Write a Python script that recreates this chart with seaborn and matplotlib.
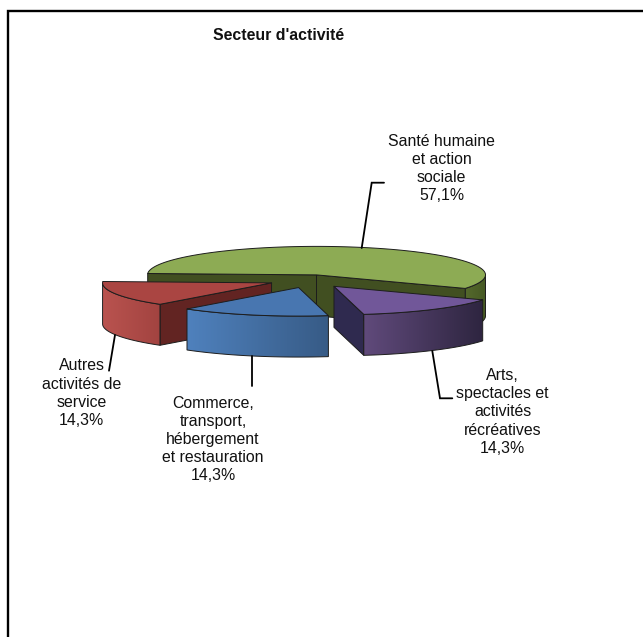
import matplotlib
matplotlib.use("Agg")
import matplotlib.pyplot as plt
import numpy as np
import seaborn as sns
from matplotlib.patches import Polygon

labels = [
    "Santé humaine\net action\nsociale",
    "Arts,\nspectacles et\nactivités\nrécréatives",
    "Commerce,\ntransport,\nhébergement\net restauration",
    "Autres\nactivités de\nservice",
]
shares = [57.1, 14.3, 14.3, 14.3]
explode = [0.15, 0.245, 0.245, 0.245]

top_colors = ["#8DAB54", "#715799", "#4876B0", "#AA4542"]
side_left = ["#55692C", "#604A7B", "#4F81BD", "#B9534F"]
side_right = ["#465924", "#2E2540", "#375B86", "#A24340"]
cut_colors = ["#414F21", "#2F2A4F", "#375B86", "#622422"]

# pie geometry in pixels
cx, cy = 309.7, 279.7
rx, ry = 169, 28.5
y_stretch = 1.17
depth = 41
start_angle = 177.2

sns.set_theme(style="white")
plt.rcParams["font.family"] = ["Liberation Sans", "DejaVu Sans"]

fig = plt.figure(figsize=(6.43, 6.37), dpi=100, facecolor="white")
ax = fig.add_axes([0, 0, 1, 1])
ax.set_axis_off()


def arc(apex, a1, a2, n=60):
    t = np.radians(np.linspace(a1, a2, n))
    return np.column_stack([apex[0] + rx * np.cos(t), apex[1] - ry * np.sin(t)])


def face(pts, color, z):
    ax.add_patch(Polygon(pts, closed=True, fc=color, ec="#1d1d1d", lw=0.7, zorder=z, joinstyle="round"))


def outer_side(apex, a1, a2, left, right, z):
    top = arc(apex, a1, a2)
    pts = np.vstack([top, (top + [0, depth])[::-1]])
    patch = Polygon(pts, closed=True, fc="none", ec="#1d1d1d", lw=0.7, zorder=z + 0.1)
    ax.add_patch(patch)
    grad = np.array(sns.blend_palette([left, right], 128))[None, :, :3]
    im = ax.imshow(grad, extent=[pts[:, 0].min(), pts[:, 0].max(), pts[:, 1].max(), pts[:, 1].min()],
                   aspect="auto", zorder=z, interpolation="bilinear")
    im.set_clip_path(patch)


# slices go clockwise from the start angle
edges = start_angle - np.cumsum([0] + shares) * 3.6
apexes = []
for i in range(len(shares)):
    mid = np.radians((edges[i] + edges[i + 1]) / 2)
    apexes.append((cx + explode[i] * rx * np.cos(mid),
                   cy - explode[i] * ry * y_stretch * np.sin(mid)))

# green slice, at the back
a = apexes[0]
e0, e1 = arc(a, edges[0], edges[1], 2)
outer_side(a, edges[1], 0, side_left[0], side_right[0], 1)
face([a, e0, e0 + [0, depth], np.add(a, [0, depth])], cut_colors[0], 1.5)
face([a, e1, e1 + [0, depth], np.add(a, [0, depth])], cut_colors[0], 1.5)
face(np.vstack([[a], arc(a, edges[0], edges[1], 120)]), top_colors[0], 2)

# red slice
a = apexes[3]
e0, e1 = arc(a, edges[3], edges[4], 2)
face([a, e0, e0 + [0, depth], np.add(a, [0, depth])], cut_colors[3], 3)
outer_side(a, edges[3], -180, side_left[3], side_right[3], 3.2)
face(np.vstack([[a], arc(a, edges[3], edges[4])]), top_colors[3], 3.5)

# blue slice
a = apexes[2]
outer_side(a, edges[2], edges[3], side_left[2], side_right[2], 4)
face(np.vstack([[a], arc(a, edges[2], edges[3])]), top_colors[2], 4.5)

# purple slice
a = apexes[1]
e0, e1 = arc(a, edges[1], edges[2], 2)
face([a, e1, e1 + [0, depth], np.add(a, [0, depth])], cut_colors[1], 5)
outer_side(a, edges[1], edges[2], side_left[1], side_right[1], 5.2)
face(np.vstack([[a], arc(a, edges[1], edges[2])]), top_colors[1], 5.5)

# data labels and their leader lines
label_pos = [(441.7, 133.5), (502.7, 368), (213, 395.5), (81.7, 358.5)]
leaders = [
    [(361.7, 248), (371.7, 182.7), (384, 182.7)],
    [(432.3, 351), (440, 398.3), (452.3, 398.3)],
    [(252.3, 356), (252.3, 386)],
    [(115, 335), (109, 370.7)],
]
for lab, val, pos, lead in zip(labels, shares, label_pos, leaders):
    txt = lab + "\n" + f"{val:.1f}%".replace(".", ",")
    ax.text(pos[0], pos[1], txt, ha="center", va="top", fontsize=11.4, color="#111111",
            linespacing=1.27, zorder=10)
    lead = np.array(lead)
    ax.plot(lead[:, 0], lead[:, 1], color="black", lw=1.3, zorder=9, solid_joinstyle="miter")

ax.text(279, 35, "Secteur d'activité", ha="center", va="center", fontsize=11.4,
        fontweight="bold", color="#111111")

# chart frame, only top and left sides are in the crop
ax.plot([7.5, 7.5, 643], [637, 11, 11], color="black", lw=1.7, solid_joinstyle="miter", zorder=11)

ax.set_xlim(0, 643)
ax.set_ylim(637, 0)
fig.savefig("out.png", dpi=100, facecolor="white")
